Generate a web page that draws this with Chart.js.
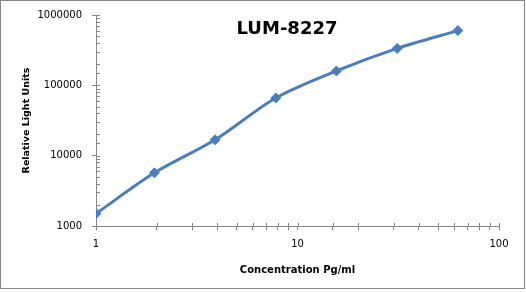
<!DOCTYPE html>
<html>
<head>
<meta charset="utf-8">
<script src="https://cdn.jsdelivr.net/npm/chart.js@4.4.0/dist/chart.umd.min.js"></script>
<style>
  html, body { margin: 0; padding: 0; background: #fff; }
  #wrap { width: 526px; height: 292px; }
</style>
</head>
<body>
<div id="wrap"><canvas id="chart" width="526" height="292"></canvas></div>
<script>
// LUM-8227 standard curve (log-log)
const chartTitle = 'LUM-8227';
const concentrations = [1, 1.95, 3.9, 7.8, 15.6, 31.25, 62.5];
const rlu = [1500, 5700, 16800, 66000, 160000, 335000, 600000];
const xTickLabels = [1, 10, 100];
const yTickLabels = [1000, 10000, 100000, 1000000];

const AXIS_GRAY = '#868686';
const LINE_BLUE = '#4a7ebb';
const isPow10 = v => Math.abs(Math.log10(v) - Math.round(Math.log10(v))) < 1e-9;

// title sits inside the plot, and the whole picture has a thin grey frame
const framePlugin = {
  id: 'frame',
  beforeDraw(chart) {
    const c = chart.ctx;
    c.save();
    c.strokeStyle = AXIS_GRAY;
    c.lineWidth = 1;
    c.strokeRect(0.5, 0.5, 524, 288);
    c.restore();
  },
  afterDraw(chart) {
    const c = chart.ctx;
    c.save();
    c.font = 'bold 18px "DejaVu Sans"';
    c.fillStyle = '#000';
    c.textAlign = 'center';
    c.textBaseline = 'alphabetic';
    c.fillText(chartTitle, 287, 34);
    c.restore();
  }
};

// short tick marks on the inner side of the axes (minor y ticks only sit inside)
const innerTicks = {
  id: 'innerTicks',
  beforeDatasetsDraw(chart) {
    const { ctx: c, chartArea: a, scales: { x, y } } = chart;
    c.save();
    c.strokeStyle = AXIS_GRAY;
    c.lineWidth = 1;
    c.beginPath();
    y.ticks.forEach(t => {
      const py = Math.round(y.getPixelForValue(t.value)) + 0.5;
      c.moveTo(a.left, py); c.lineTo(a.left + 4, py);
    });
    x.ticks.forEach(t => {
      const px = Math.round(x.getPixelForValue(t.value)) + 0.5;
      c.moveTo(px, a.bottom); c.lineTo(px, a.bottom - 3);
    });
    c.stroke();
    c.restore();
  }
};

new Chart(document.getElementById('chart'), {
  type: 'scatter',
  data: {
    datasets: [{
      label: chartTitle,
      data: concentrations.map((c, i) => ({ x: c, y: rlu[i] })),
      showLine: true,
      tension: 0.3,
      borderColor: LINE_BLUE,
      backgroundColor: LINE_BLUE,
      borderWidth: 3,
      pointStyle: 'rectRot',
      pointRadius: 5,
      pointBorderWidth: 1,
      pointBorderColor: LINE_BLUE,
      pointBackgroundColor: LINE_BLUE
    }]
  },
  options: {
    responsive: false,
    animation: false,
    layout: { padding: { top: 15, right: 27, left: 0, bottom: 0 } },
    plugins: { legend: { display: false }, tooltip: { enabled: false } },
    scales: {
      x: {
        type: 'logarithmic',
        min: 1, max: 100,
        border: { color: AXIS_GRAY, width: 1 },
        grid: { drawOnChartArea: false, drawTicks: true, tickLength: 4, tickColor: AXIS_GRAY },
        ticks: {
          autoSkip: false, maxRotation: 0, padding: 8, color: '#000',
          font: { family: 'DejaVu Sans', size: 10 },
          callback: v => xTickLabels.includes(v) ? String(v) : ''
        },
        title: {
          display: true, text: 'Concentration Pg/ml', color: '#000',
          font: { family: 'DejaVu Sans', size: 10, weight: 'bold' },
          padding: { top: 0, bottom: 16 }
        },
        afterFit(s) { s.height = 66; s.paddingLeft = 0; s.paddingRight = 0; }
      },
      y: {
        type: 'logarithmic',
        min: 1000, max: 1000000,
        border: { color: AXIS_GRAY, width: 1 },
        grid: {
          drawOnChartArea: false, drawTicks: true, tickLength: 4,
          tickColor: ctx => (ctx.tick && isPow10(ctx.tick.value)) ? AXIS_GRAY : 'rgba(0,0,0,0)'
        },
        ticks: {
          autoSkip: false, padding: 10, color: '#000',
          font: { family: 'DejaVu Sans', size: 10 },
          callback: v => yTickLabels.includes(v) ? String(v) : ''
        },
        title: {
          display: true, text: 'Relative Light Units', color: '#000',
          font: { family: 'DejaVu Sans', size: 9.5, weight: 'bold' },
          padding: { top: 21, bottom: 0 }
        },
        afterFit(s) { s.width = 96; s.paddingTop = 0; s.paddingBottom = 0; }
      }
    }
  },
  plugins: [framePlugin, innerTicks]
});
</script>
</body>
</html>
